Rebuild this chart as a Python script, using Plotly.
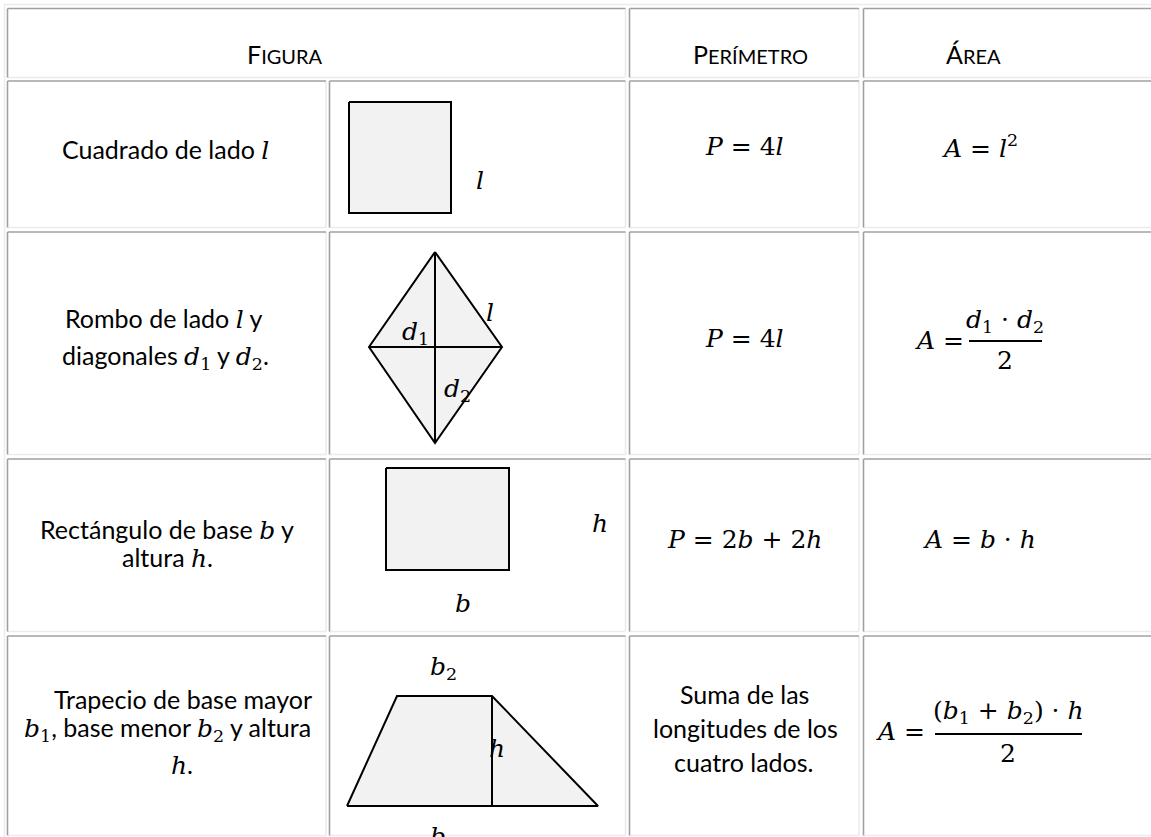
import plotly.graph_objects as go

# ---------------- data (content of the table) ----------------
header_words = ["FIGURA", "PERÍMETRO", "ÁREA"]

SERIF = "DejaVu Serif"
SANS = "Lato"
MSIZE = 25


def M(s):
    return f"<span style='font-family:{SERIF};font-size:{MSIZE}px'>{s}</span>"


l_ = M("<i>l</i>")
b_ = M("<i>b</i>")
h_ = M("<i>h</i>")
d1_ = M("<i>d</i><sub>1</sub>")
d2_ = M("<i>d</i><sub>2</sub>")
b1_ = M("<i>b</i><sub>1</sub>")
b2_ = M("<i>b</i><sub>2</sub>")

figure_names = [
    ["Cuadrado de lado " + l_],
    ["Rombo de lado " + l_ + " y", "diagonales " + d1_ + " y " + d2_ + "."],
    ["Rectángulo de base " + b_ + " y", "altura " + h_ + "."],
    ["Trapecio de base mayor", b1_ + ", base menor " + b2_ + " y altura", h_ + "."],
]
perimeters = [
    [M("<i>P</i> = 4<i>l</i>")],
    [M("<i>P</i> = 4<i>l</i>")],
    [M("<i>P</i> = 2<i>b</i> + 2<i>h</i>")],
    ["Suma de las", "longitudes de los", "cuatro lados."],
]
areas_simple = {0: M("<i>A</i> = <i>l</i><sup>2</sup>"), 2: M("<i>A</i> = <i>b</i> · <i>h</i>")}
areas_fraction = {
    1: (M("<i>d</i><sub>1</sub> · <i>d</i><sub>2</sub>"), M("2")),
    3: (M("(<i>b</i><sub>1</sub> + <i>b</i><sub>2</sub>) · <i>h</i>"), M("2")),
}

# figure geometry (drawing units = pixels of the table)
square_x = [349, 451, 451, 349]
square_y = [102, 102, 213, 213]
rhombus_x = [435, 502, 435, 369]
rhombus_y = [252, 347, 443, 347]
rect_x = [386, 509, 509, 386]
rect_y = [468, 468, 570, 570]
trap_x = [347, 397, 492, 598]
trap_y = [806, 696, 696, 806]
trap_h_x = [492, 492]
trap_h_y = [696, 806]

shape_labels = [
    (480, 180, "<i>l</i>"), (490, 312, "<i>l</i>"),
    (415, 333, "<i>d</i><sub>1</sub>"), (457, 390, "<i>d</i><sub>2</sub>"),
    (600, 523, "<i>h</i>"), (463, 603, "<i>b</i>"),
    (443, 668, "<i>b</i><sub>2</sub>"), (497, 748, "<i>h</i>"),
]

# ---------------- table layout ----------------
col_left = [7.5, 329.5, 629.5, 863.5]
col_right = [326, 625.5, 859, 1165]
row_top = [8.5, 81, 232, 459, 636]
row_bot = [77.5, 227.5, 454.5, 631.5, 835.5]

DARK = "#a0a0a0"
LIGHT = "#ececec"

fig = go.Figure()
shapes = []


def hline(x0, x1, y, color, w=1.6):
    shapes.append(dict(type="line", xref="x", yref="y", x0=x0, x1=x1, y0=y, y1=y,
                       line=dict(color=color, width=w)))


def vline(x, y0, y1, color, w=1.6):
    shapes.append(dict(type="line", xref="x", yref="y", x0=x, x1=x, y0=y0, y1=y1,
                       line=dict(color=color, width=w)))


def cell(l, r, t, b):
    hline(l, r, b, LIGHT)
    vline(r, t, b, LIGHT)
    hline(l, r, t, DARK)
    vline(l, t, b, DARK)


# outer table edge
hline(4, 1160, 4.5, LIGHT, 1.4)
vline(4.5, 4, 900, LIGHT, 1.4)

# header cells
cell(col_left[0], col_right[1], row_top[0], row_bot[0])
cell(col_left[2], col_right[2], row_top[0], row_bot[0])
cell(col_left[3], col_right[3], row_top[0], row_bot[0])
for r in range(1, 5):
    for c in range(4):
        cell(col_left[c], col_right[c], row_top[r], row_bot[r])

# figures
FILL = "#f2f2f2"
for xs, ys in [(square_x, square_y), (rhombus_x, rhombus_y), (rect_x, rect_y), (trap_x, trap_y)]:
    fig.add_trace(go.Scatter(x=xs + [xs[0]], y=ys + [ys[0]], mode="lines", fill="toself",
                             fillcolor=FILL, line=dict(color="black", width=2),
                             hoverinfo="skip", showlegend=False))
# rhombus diagonals
fig.add_trace(go.Scatter(x=[rhombus_x[0], rhombus_x[2], None, rhombus_x[1], rhombus_x[3]],
                         y=[rhombus_y[0], rhombus_y[2], None, rhombus_y[1], rhombus_y[3]],
                         mode="lines", line=dict(color="black", width=2),
                         hoverinfo="skip", showlegend=False))
fig.add_trace(go.Scatter(x=trap_h_x, y=trap_h_y, mode="lines", line=dict(color="black", width=2),
                         hoverinfo="skip", showlegend=False))

annotations = []


def text(x, y, s, size=25, family=SANS, yshift=0):
    annotations.append(dict(x=x, y=y, xref="x", yref="y", text=s, showarrow=False,
                            xanchor="center", yanchor="middle", yshift=yshift,
                            font=dict(family=family, size=size, color="black")))


def small_caps(word):
    return word[0] + f"<span style='font-size:20px'>{word[1:]}</span>"


header_x = [285, 750, 973]
for x, w in zip(header_x, header_words):
    text(x, 54, small_caps(w))

name_pos = [
    [(165, 149)],
    [(163, 318), (165, 357)],
    [(167, 529), (167, 557)],
    [(183, 699), (167, 729), (182, 764)],
]
for lines, pos in zip(figure_names, name_pos):
    for s, (x, y) in zip(lines, pos):
        text(x, y, s)

per_pos = [[(744, 146)], [(744, 338)], [(744, 539)], [(744, 694), (745, 728), (744, 762)]]
for lines, pos in zip(perimeters, per_pos):
    for s, (x, y) in zip(lines, pos):
        text(x, y, s)

area_simple_pos = {0: (980, 146), 2: (979, 539)}
for k, s in areas_simple.items():
    text(*area_simple_pos[k], s)

# fractions: (A= x, y), (num x, y), bar (x0, x1, y), (den y)
frac_layout = {
    1: dict(ax=939, ay=340, nx=1005, ny=321, bx0=969, bx1=1042, by=341, dy=360),
    3: dict(ax=900, ay=731, nx=1008, ny=712, bx0=935, bx1=1082, by=734, dy=753),
}
for k, (num, den) in areas_fraction.items():
    f = frac_layout[k]
    text(f["ax"], f["ay"], M("<i>A</i> ="))
    text(f["nx"], f["ny"], num)
    text(f["nx"], f["dy"], den)
    hline(f["bx0"], f["bx1"], f["by"], "black", 2)

for x, y, s in shape_labels:
    text(x, y, s, size=MSIZE, family=SERIF)
# b1 label, clipped at the bottom edge
text(443, 830, "<i>b</i><sub>1</sub>", size=MSIZE, family=SERIF, yshift=-8)

fig.update_layout(
    width=1151, height=837, autosize=False,
    margin=dict(l=0, r=0, t=0, b=0, pad=0),
    paper_bgcolor="white", plot_bgcolor="white",
    xaxis=dict(range=[0, 1151], visible=False, fixedrange=True),
    yaxis=dict(range=[837, 0], visible=False, fixedrange=True),
    shapes=shapes, annotations=annotations, showlegend=False,
)

fig.write_html("out.html", config={"displayModeBar": False},
               post_script="document.body.style.margin='0px';document.body.style.overflow='hidden';")
